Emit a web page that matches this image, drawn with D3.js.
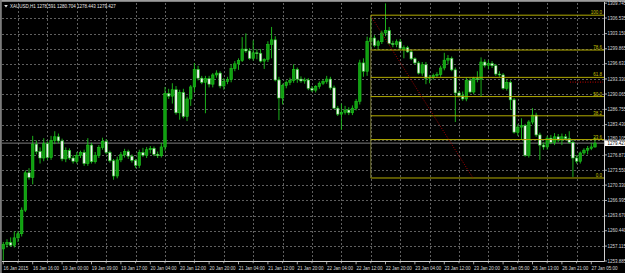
<!DOCTYPE html>
<html><head><meta charset="utf-8">
<script src="https://cdn.jsdelivr.net/npm/d3@7"></script>
<style>body{margin:0;background:#000;overflow:hidden}svg{display:block}</style>
</head><body>
<svg id="c" width="625" height="273"></svg>
<script>
const symbol = "XAUUSD,H1";
const timeLabels = ["16 Jan 2015","16 Jan 16:00","19 Jan 00:00","19 Jan 09:00","19 Jan 17:00","20 Jan 04:00","20 Jan 12:00","20 Jan 20:00","21 Jan 04:00","21 Jan 12:00","21 Jan 20:00","22 Jan 04:00","22 Jan 12:00","22 Jan 20:00","23 Jan 04:00","23 Jan 12:00","23 Jan 20:00","26 Jan 05:00","26 Jan 13:00","26 Jan 21:00","27 Jan 05:00"];
const barsPerLabel = 8;
const priceTicks = [1309.745,1306.535,1303.150,1299.865,1296.631,1293.330,1290.065,1286.755,1283.430,1280.105,1276.871,1273.550,1270.330,1266.995,1263.670,1260.440,1257.115,1253.885];

const opens = [1256.5,1257.5,1257.9,1257.3,1258.9,1259.8,1264.9,1273.0,1272.0,1279.2,1277.6,1276.2,1279.3,1276.3,1280.0,1280.8,1279.9,1276.0,1277.8,1276.2,1275.5,1276.8,1277.4,1275.0,1279.0,1275.4,1276.8,1278.5,1279.8,1277.4,1275.6,1272.3,1275.8,1276.9,1277.6,1276.6,1275.7,1274.6,1277.4,1276.8,1278.0,1278.3,1277.0,1276.7,1278.6,1290.2,1289.6,1291.0,1286.0,1290.4,1285.2,1289.0,1291.6,1295.4,1293.5,1292.6,1293.4,1292.2,1294.2,1294.6,1291.8,1292.8,1293.2,1295.6,1296.6,1297.3,1299.8,1299.4,1297.8,1299.0,1298.9,1297.2,1297.6,1300.8,1301.8,1293.1,1289.2,1291.9,1292.6,1293.0,1295.4,1293.3,1292.9,1293.1,1291.3,1290.9,1291.7,1292.4,1292.8,1293.3,1291.4,1287.0,1285.7,1286.1,1286.6,1286.0,1287.0,1288.5,1296.8,1295.0,1301.5,1302.2,1300.6,1301.4,1303.3,1303.8,1301.0,1300.8,1301.4,1299.7,1300.1,1299.2,1297.7,1296.8,1294.6,1296.4,1293.5,1293.7,1294.1,1294.3,1295.7,1297.4,1297.8,1295.3,1290.3,1289.7,1289.0,1293.0,1290.5,1293.4,1293.3,1297.0,1296.3,1296.7,1296.2,1294.4,1294.2,1291.3,1292.6,1288.8,1281.8,1282.9,1283.2,1276.8,1284.0,1285.5,1281.2,1279.0,1278.6,1280.5,1279.6,1280.8,1280.1,1280.8,1280.4,1279.6,1276.2,1275.5,1277.3,1277.9,1278.3,1278.591];
const highs = [1258.0,1258.6,1259.0,1260.3,1260.4,1265.5,1273.5,1274.0,1281.0,1280.0,1278.5,1280.5,1279.8,1281.0,1282.0,1281.5,1280.4,1278.5,1278.3,1276.8,1277.5,1277.8,1278.0,1280.5,1279.5,1277.5,1279.0,1280.6,1280.3,1277.8,1276.0,1276.5,1277.5,1278.2,1278.0,1277.0,1276.0,1278.0,1278.4,1278.6,1278.8,1278.7,1277.6,1279.5,1291.6,1291.2,1292.4,1291.8,1291.0,1291.2,1289.5,1292.0,1296.8,1296.2,1294.0,1294.0,1294.0,1294.6,1295.2,1295.0,1293.5,1293.8,1296.5,1297.2,1297.8,1302.4,1303.2,1300.0,1301.7,1299.8,1299.8,1297.8,1301.5,1304.6,1302.6,1293.8,1292.3,1293.0,1293.6,1296.5,1295.8,1293.9,1293.6,1293.5,1291.8,1292.0,1292.8,1293.2,1294.0,1293.8,1291.9,1287.5,1288.0,1287.5,1287.2,1287.6,1289.0,1297.5,1297.8,1302.5,1307.1,1302.8,1301.8,1303.8,1309.7,1304.6,1301.6,1301.9,1302.0,1300.6,1300.5,1299.6,1298.0,1297.2,1297.0,1297.0,1294.2,1294.5,1294.8,1296.2,1299.0,1298.5,1298.2,1295.8,1290.8,1290.6,1293.6,1293.5,1293.8,1295.0,1298.0,1297.6,1297.4,1297.2,1296.6,1295.0,1294.6,1293.2,1293.0,1289.2,1283.5,1284.8,1283.6,1284.4,1287.0,1286.0,1281.7,1279.6,1281.0,1281.2,1281.6,1281.4,1281.5,1281.4,1282.0,1280.2,1276.8,1277.6,1278.3,1278.8,1279.5,1280.704];
const lows = [1254.0,1256.8,1257.0,1256.8,1258.0,1259.2,1264.5,1271.5,1270.5,1277.0,1275.0,1275.5,1275.8,1275.8,1279.2,1279.4,1275.5,1275.3,1275.8,1275.0,1275.0,1276.2,1274.5,1274.5,1275.0,1275.0,1276.2,1278.0,1277.0,1275.2,1271.5,1271.8,1275.3,1276.3,1276.0,1275.2,1274.0,1274.0,1276.4,1276.2,1277.2,1276.6,1276.2,1276.3,1277.8,1289.0,1288.0,1285.6,1284.5,1284.8,1284.2,1287.5,1290.5,1293.0,1292.2,1285.9,1291.5,1291.5,1293.6,1291.3,1291.0,1292.2,1292.6,1295.0,1295.3,1297.0,1299.0,1297.5,1297.3,1297.6,1296.9,1295.5,1297.0,1297.8,1292.8,1284.4,1287.8,1291.3,1292.0,1292.5,1292.5,1292.5,1292.3,1290.9,1290.5,1290.4,1291.2,1292.0,1292.3,1291.0,1286.8,1285.3,1282.3,1285.6,1285.5,1285.5,1286.5,1287.8,1293.8,1294.0,1299.8,1300.2,1299.6,1300.9,1302.6,1300.8,1300.2,1300.2,1299.6,1297.8,1299.0,1297.4,1296.5,1294.3,1294.0,1292.2,1292.4,1293.2,1293.6,1293.8,1295.2,1296.5,1295.0,1284.0,1289.3,1288.6,1288.5,1290.2,1290.0,1292.6,1289.6,1295.8,1295.4,1295.7,1294.0,1293.8,1291.0,1290.8,1286.6,1281.5,1281.0,1280.1,1276.5,1276.3,1283.5,1280.8,1275.8,1278.0,1278.0,1279.2,1279.0,1279.6,1279.0,1280.0,1279.3,1272.1,1275.0,1275.0,1276.9,1277.0,1277.9,1278.443];
const closes = [1257.5,1257.9,1257.3,1258.9,1259.8,1264.9,1273.0,1272.0,1279.2,1277.6,1276.2,1279.3,1276.3,1280.0,1280.8,1279.9,1276.0,1277.8,1276.2,1275.5,1276.8,1277.4,1275.0,1279.0,1275.4,1276.8,1278.5,1279.8,1277.4,1275.6,1272.3,1275.8,1276.9,1277.6,1276.6,1275.7,1274.6,1277.4,1276.8,1278.0,1278.3,1277.0,1276.7,1278.6,1290.2,1289.6,1291.0,1286.0,1290.4,1285.2,1289.0,1291.6,1295.4,1293.5,1292.6,1293.4,1292.2,1294.2,1294.6,1291.8,1292.8,1293.2,1295.6,1296.6,1297.3,1299.8,1299.4,1297.8,1299.0,1298.9,1297.2,1297.6,1300.8,1301.8,1293.1,1289.2,1291.9,1292.6,1293.0,1295.4,1293.3,1292.9,1293.1,1291.3,1290.9,1291.7,1292.4,1292.8,1293.3,1291.4,1287.0,1285.7,1286.1,1286.6,1286.0,1287.0,1288.5,1296.8,1295.0,1301.5,1302.2,1300.6,1301.4,1303.3,1303.8,1301.0,1300.8,1301.4,1300.0,1300.1,1299.2,1297.7,1296.8,1294.6,1296.4,1293.5,1293.7,1294.1,1294.3,1295.7,1297.4,1297.8,1295.3,1290.3,1289.7,1289.0,1293.0,1290.5,1293.4,1293.3,1297.0,1296.3,1296.7,1296.2,1294.4,1294.2,1291.3,1292.6,1288.8,1281.8,1282.9,1283.2,1276.8,1284.0,1285.5,1281.2,1279.0,1278.6,1280.5,1279.6,1280.8,1280.1,1280.8,1280.4,1279.6,1276.2,1275.5,1277.3,1277.9,1278.3,1278.6,1279.427];

const fibLevels = [0, 23.6, 38.2, 50, 61.8, 78.6, 100];
const fibHigh = 1307.15, fibLow = 1271.87, fibBar = 100;
const trendStart = {bar: 100, price: 1307.0};
const trendEnd = {bar: 127.8, price: 1271.87};
const markPrice = 1292.65, markBar = 154.2;
const bidPrice = 1279.427;

const W = 625, H = 273;
const L = 2, R = 604.5, T = 2, B = 261.5;
const svg = d3.select("#c");
const font = "'Liberation Sans', Arial, sans-serif";
const fs = 4.5;

const n = opens.length;
const x = d3.scaleLinear().domain([0, n - 1]).range([3.3, 3.3 + (n - 1) * 3.675]);
const y = d3.scaleLinear().domain([priceTicks[priceTicks.length - 1], priceTicks[0]]).range([261, 3.2]);

svg.append("rect").attr("width", W).attr("height", H).attr("fill", "#000");
svg.append("rect").attr("x", 0).attr("y", 0).attr("width", W).attr("height", 1.8).attr("fill", "#9c9c9c");
svg.append("rect").attr("x", 0).attr("y", 0).attr("width", 1.8).attr("height", H).attr("fill", "#7c7c7c");

const plot = svg.append("g");
const vg = d3.range(0, timeLabels.length).map(k => k * barsPerLabel + barsPerLabel / 2).filter(b => x(b) < R - 2);
plot.selectAll(".vg").data(vg).join("line")
  .attr("x1", d => Math.round(x(d)) + 0.5).attr("x2", d => Math.round(x(d)) + 0.5)
  .attr("y1", T + 1).attr("y2", B)
  .attr("stroke", "#6a6a6a").attr("stroke-width", 0.9).attr("stroke-dasharray", "2,2");
plot.selectAll(".hg").data(priceTicks.slice(1, -1)).join("line")
  .attr("x1", L).attr("x2", R)
  .attr("y1", d => Math.round(y(d)) + 0.5).attr("y2", d => Math.round(y(d)) + 0.5)
  .attr("stroke", "#6a6a6a").attr("stroke-width", 0.9).attr("stroke-dasharray", "2,2");

plot.append("line").attr("x1", L).attr("x2", R).attr("y1", y(bidPrice)).attr("y2", y(bidPrice))
  .attr("stroke", "#8a8a8a").attr("stroke-width", 0.9);

const idx = d3.range(n);
const green = "#1ec41e";
plot.selectAll(".wick").data(idx).join("line")
  .attr("x1", i => x(i)).attr("x2", i => x(i))
  .attr("y1", i => y(highs[i])).attr("y2", i => y(lows[i]))
  .attr("stroke", green).attr("stroke-width", 0.9);
plot.selectAll(".body").data(idx).join("rect")
  .attr("x", i => x(i) - 1.25).attr("width", 2.5)
  .attr("y", i => y(Math.max(opens[i], closes[i])))
  .attr("height", i => Math.max(0.8, Math.abs(y(opens[i]) - y(closes[i]))))
  .attr("fill", i => closes[i] >= opens[i] ? "#10a010" : "#f2f2f2")
  .attr("stroke", green).attr("stroke-width", 0.6);

const fibPrice = lv => fibLow + (fibHigh - fibLow) * lv / 100;
const fibCol = "#b3ab00";
plot.append("line").attr("x1", x(fibBar)).attr("x2", x(fibBar))
  .attr("y1", y(fibHigh)).attr("y2", y(fibLow)).attr("stroke", "#85853a").attr("stroke-width", 0.9);
plot.selectAll(".fib").data(fibLevels).join("line")
  .attr("x1", x(fibBar)).attr("x2", R)
  .attr("y1", d => y(fibPrice(d))).attr("y2", d => y(fibPrice(d)))
  .attr("stroke", fibCol).attr("stroke-width", 1);
plot.selectAll(".fibt").data(fibLevels).join("text")
  .attr("x", R - 2.5).attr("y", d => y(fibPrice(d)) - 1)
  .attr("text-anchor", "end").attr("font-family", font).attr("font-size", fs)
  .attr("fill", "#c8c000").text(d => d.toFixed(1));

plot.append("line").attr("x1", x(trendStart.bar)).attr("y1", y(trendStart.price))
  .attr("x2", x(trendEnd.bar)).attr("y2", y(trendEnd.price))
  .attr("stroke", "#a80000").attr("stroke-width", 1).attr("stroke-dasharray", "1,1.5");
plot.append("line").attr("x1", x(markBar)).attr("x2", R - 1.5).attr("y1", y(markPrice)).attr("y2", y(markPrice))
  .attr("stroke", "#c00000").attr("stroke-width", 1).attr("stroke-dasharray", "1,1.5");

svg.append("line").attr("x1", R).attr("x2", R).attr("y1", T).attr("y2", B).attr("stroke", "#cfcfcf").attr("stroke-width", 1);
svg.append("line").attr("x1", L).attr("x2", R).attr("y1", B).attr("y2", B).attr("stroke", "#cfcfcf").attr("stroke-width", 1);

const pa = svg.append("g");
const bidY = y(bidPrice);
const labelY = d => {
  let v = Math.min(Math.max(y(d) + 1.6, 5.3), 262.5);
  if (Math.abs(y(d) - bidY) < 6) v = Math.min(v, bidY - 3.2);
  return v;
};
pa.selectAll("line").data(priceTicks).join("line")
  .attr("x1", R).attr("x2", R + 2.5).attr("y1", d => y(d)).attr("y2", d => y(d))
  .attr("stroke", "#cfcfcf").attr("stroke-width", 0.8);
pa.selectAll("text").data(priceTicks).join("text")
  .attr("x", R + 3).attr("y", labelY)
  .attr("font-family", font).attr("font-size", fs).attr("fill", "#d8d8d8")
  .text(d => d.toFixed(3));
pa.append("rect").attr("x", R + 0.5).attr("y", bidY - 2.7).attr("width", W - R).attr("height", 5.6).attr("fill", "#ffffff");
pa.append("text").attr("x", R + 3).attr("y", bidY + 1.6)
  .attr("font-family", font).attr("font-size", fs).attr("fill", "#000").text(bidPrice.toFixed(3));

const ta = svg.append("g");
const majors = timeLabels.map((t, k) => k * barsPerLabel);
ta.selectAll(".mj").data(majors).join("line")
  .attr("x1", d => x(d)).attr("x2", d => x(d)).attr("y1", B).attr("y2", B + 2.8)
  .attr("stroke", "#cfcfcf").attr("stroke-width", 0.8);
ta.selectAll(".mn").data(vg).join("line")
  .attr("x1", d => x(d)).attr("x2", d => x(d)).attr("y1", B).attr("y2", B + 1.8)
  .attr("stroke", "#cfcfcf").attr("stroke-width", 0.8);
ta.selectAll("text").data(timeLabels).join("text")
  .attr("x", (d, k) => x(k * barsPerLabel) + 0.3).attr("y", 269.5)
  .attr("font-family", font).attr("font-size", fs).attr("fill", "#d8d8d8").text(d => d);

svg.append("path").attr("d", "M4.2,5 L7.8,5 L6,7.6 Z").attr("fill", "#e0e0e0");
svg.append("text").attr("x", 10).attr("y", 8)
  .attr("font-family", font).attr("font-size", fs).attr("fill", "#e8e8e8")
  .text(symbol + "  " + [opens[n-1], highs[n-1], lows[n-1], closes[n-1]].map(v => v.toFixed(3)).join(" "));
</script>
</body></html>
